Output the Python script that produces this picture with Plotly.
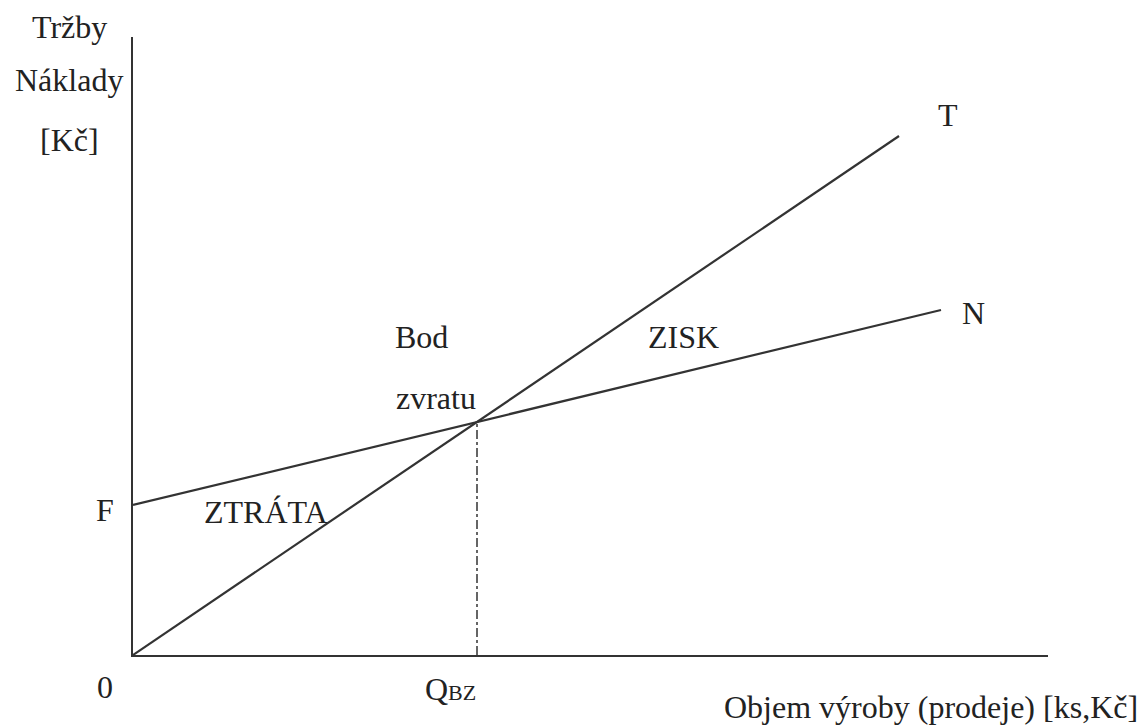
import plotly.graph_objects as go

# Break-even chart data (axis units)
t_x = [0, 766]          # Tržby (revenue) line
t_y = [0, 519]
n_x = [0, 808]          # Náklady (costs) line
n_y = [150, 345]
q_bz = 344              # break-even quantity
bz_y = 233              # value at break-even point

x_max = 915
y_max = 618

FONT = "Liberation Serif"
FS = 32
TXT = "#222222"
LINE = "#333333"

fig = go.Figure()
fig.add_trace(go.Scatter(x=t_x, y=t_y, mode="lines",
                         line=dict(color=LINE, width=2.2), hoverinfo="skip"))
fig.add_trace(go.Scatter(x=n_x, y=n_y, mode="lines",
                         line=dict(color=LINE, width=2.2), hoverinfo="skip"))
fig.add_trace(go.Scatter(x=[q_bz, q_bz], y=[0, bz_y], mode="lines",
                         line=dict(color=LINE, width=1.5, dash="dashdot"),
                         hoverinfo="skip"))

# label positions in axis units (converted to paper fractions below)
labels = [
    ("Tržby", -63, 628),
    ("Náklady", -64, 575),
    ("[Kč]", -64, 515),
    ("F", -28, 145),
    ("ZTRÁTA", 133, 143),
    ("Bod", 288, 318),
    ("zvratu", 303, 257),
    ("ZISK", 550, 318),
    ("T", 815, 540),
    ("N", 840, 342),
    ("0", -28, -32),
    ("Q<span style='font-size:22px'>BZ</span>", 317, -34),
    ("Objem výroby (prodeje) [ks,Kč]", 798, -52),
]
for text, x, y in labels:
    fig.add_annotation(x=x / x_max, y=y / y_max, xref="paper", yref="paper",
                       xanchor="center", yanchor="middle",
                       text=text, showarrow=False,
                       font=dict(family=FONT, size=FS, color=TXT))

fig.update_layout(
    width=1140, height=717,
    margin=dict(l=125, r=100, t=29, b=70),
    paper_bgcolor="white", plot_bgcolor="white",
    showlegend=False,
    xaxis=dict(range=[0, x_max], showgrid=False, zeroline=False,
               showticklabels=False, ticks="", showline=True,
               linecolor=LINE, linewidth=2, fixedrange=True),
    yaxis=dict(range=[0, y_max], showgrid=False, zeroline=False,
               showticklabels=False, ticks="", showline=True,
               linecolor=LINE, linewidth=2, fixedrange=True),
)

fig.write_html("out.html", config={"displayModeBar": False})
